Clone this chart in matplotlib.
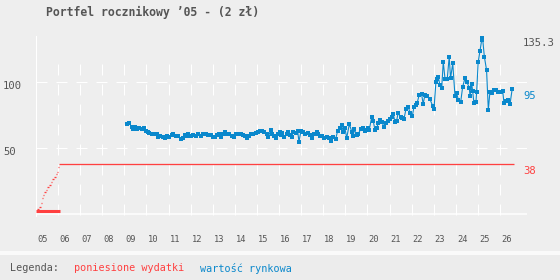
import matplotlib
matplotlib.use('Agg')
import matplotlib.pyplot as plt
from matplotlib.patches import Rectangle

# dane
years = list(range(2005, 2027))
year_labels = ['%02d' % (y % 100) for y in years]
y_ticks = [50, 100]

# poniesione wydatki (schodki w pierwszym roku, potem stale)
spent_dates = [2005.06, 2005.15, 2005.21, 2005.29, 2005.33, 2005.38, 2005.45, 2005.51, 2005.60,
               2005.67, 2005.74, 2005.81, 2005.89, 2005.95, 2005.98, 2006.01, 2006.03, 2026.65]
spent = [4.2, 5.8, 8.3, 12.1, 14.6, 16.6, 18.2, 20.5, 22.2,
         24.2, 26.5, 28.3, 30.5, 32.3, 34.1, 36.1, 38.0]
first_year = [2005.0, 2006.09]
first_year_val = 2.2

# wartosc rynkowa
value_dates = [
    2009.13, 2009.22, 2009.33, 2009.40, 2009.48, 2009.58, 2009.67, 2009.78, 2009.89, 2009.98,
    2010.08, 2010.13, 2010.24, 2010.34, 2010.46, 2010.53, 2010.61, 2010.73, 2010.84, 2010.94,
    2011.03, 2011.14, 2011.21, 2011.33, 2011.44, 2011.55, 2011.64, 2011.74, 2011.82, 2011.89,
    2012.01, 2012.12, 2012.24, 2012.34, 2012.45, 2012.57, 2012.69, 2012.80, 2012.90,
    2013.02, 2013.10, 2013.20, 2013.29, 2013.38, 2013.48, 2013.57, 2013.66, 2013.75, 2013.86, 2013.96,
    2014.05, 2014.15, 2014.28, 2014.38, 2014.46, 2014.53, 2014.64, 2014.73, 2014.83, 2014.94,
    2015.03, 2015.14, 2015.24, 2015.33, 2015.44, 2015.51, 2015.63, 2015.69, 2015.78, 2015.85, 2015.94,
    2016.04, 2016.09, 2016.15, 2016.24, 2016.34, 2016.42, 2016.49, 2016.57, 2016.64, 2016.75, 2016.84,
    2016.90, 2016.99,
    2017.10, 2017.17, 2017.29, 2017.40, 2017.50, 2017.59, 2017.70, 2017.77, 2017.85, 2017.95,
    2018.05, 2018.15, 2018.26, 2018.35, 2018.45, 2018.56, 2018.65, 2018.76, 2018.83, 2018.91, 2018.98,
    2019.06, 2019.18, 2019.29, 2019.36, 2019.40, 2019.51, 2019.58, 2019.69, 2019.78, 2019.89, 2019.96,
    2020.04, 2020.08, 2020.19, 2020.26, 2020.34, 2020.42, 2020.49, 2020.57, 2020.64, 2020.75, 2020.84,
    2020.94,
    2021.02, 2021.10, 2021.17, 2021.24, 2021.32, 2021.39, 2021.50, 2021.55, 2021.65, 2021.74, 2021.85,
    2021.92,
    2022.03, 2022.10, 2022.19, 2022.25, 2022.34, 2022.45, 2022.52, 2022.60, 2022.71, 2022.83, 2022.95,
    2023.01, 2023.10, 2023.16, 2023.20, 2023.28, 2023.36, 2023.43, 2023.51, 2023.61, 2023.70, 2023.76,
    2023.86, 2023.96,
    2024.04, 2024.11, 2024.22, 2024.31, 2024.41, 2024.49, 2024.61, 2024.64, 2024.72, 2024.76, 2024.82,
    2024.91, 2024.94,
    2025.01, 2025.09, 2025.17, 2025.20, 2025.29, 2025.39, 2025.47, 2025.54, 2025.62, 2025.72, 2025.81,
    2025.92,
    2026.03, 2026.12, 2026.18, 2026.27, 2026.37, 2026.45, 2026.55]
value = [
    68.4, 68.9, 66.4, 64.6, 66.4, 64.6, 65.2, 64.6, 65.2, 63.1,
    62.6, 61.4, 60.6, 60.6, 61.1, 58.3, 59.3, 58.8, 58.0, 59.5,
    58.3, 60.1, 60.6, 59.5, 59.3, 57.0, 58.0, 60.1, 59.5, 60.6,
    59.5, 60.1, 59.3, 60.6, 59.5, 61.1, 60.6, 60.1, 60.1,
    58.6, 58.6, 60.1, 60.6, 58.6, 60.6, 62.1, 61.1, 60.6, 59.5, 58.6,
    61.1, 60.6, 60.6, 60.1, 59.5, 57.6, 59.5, 61.1, 60.6, 61.4,
    62.6, 63.1, 63.1, 62.1, 60.6, 58.8, 63.9, 60.6, 59.5, 58.0, 61.1,
    62.6, 60.1, 61.4, 58.6, 60.6, 62.6, 60.1, 58.6, 62.6, 61.4, 63.1,
    55.0, 63.1,
    62.1, 60.6, 61.4, 60.1, 57.6, 60.6, 62.1, 60.6, 59.5, 59.5,
    58.0, 58.8, 57.6, 55.5, 58.8, 57.0, 63.1, 65.2, 67.3, 62.6, 65.2,
    57.8, 68.4, 62.6, 59.3, 64.4, 60.1, 60.8, 64.4, 65.2, 63.3, 63.9,
    65.2, 63.9, 73.5, 70.9, 63.9, 65.2, 69.4, 71.4, 70.2, 66.4, 68.9,
    70.9,
    72.4, 73.5, 76.0, 70.2, 70.9, 77.0, 73.5, 72.7, 72.0, 79.5, 81.5,
    77.0,
    74.5, 81.1, 82.8, 84.5, 90.4, 91.1, 83.6, 90.4, 89.6, 87.1, 82.3,
    79.8, 100.5, 102.5, 104.2, 98.0, 95.5, 115.6, 102.5, 102.5, 119.4, 103.0,
    114.4, 89.8,
    91.7, 86.6, 85.3, 96.7, 103.0, 100.5, 95.9, 89.8, 98.5, 93.4, 84.1,
    85.3, 92.4,
    115.2, 123.7, 132.0, 135.3, 119.4, 109.3, 79.0, 92.4, 91.7, 94.2, 94.2,
    92.4,
    92.9, 93.4, 84.1, 85.7, 86.6, 83.3, 95.0]

BG = '#eeeeee'
GREY = '#555555'
RED = '#ff4040'
BLUE = '#0a88cc'
FONT = 'DejaVu Sans Mono'
plt.rcParams['font.family'] = FONT

W, H = 560, 280
fig = plt.figure(figsize=(W / 100, H / 100), dpi=100, facecolor=BG)

# pasek legendy na dole
fig.patches.append(Rectangle((0, 0), 1, 25 / H, transform=fig.transFigure,
                             facecolor='#ececec', edgecolor='none', zorder=0))
fig.patches.append(Rectangle((0, 25 / H), 1, 4 / H, transform=fig.transFigure,
                             facecolor='#fafafa', edgecolor='none', zorder=0))

# obszar wykresu: x 36..527 px, y 36..216.5 px
ax = fig.add_axes([36 / W, (H - 216.5) / H, (527 - 36) / W, (216.5 - 36) / H])
ax.set_facecolor('none')
for s in ax.spines.values():
    s.set_visible(False)
ax.set_xlim(2005, 2027.22)
ax.set_ylim(-1.67, 135.1)
ax.set_xticks([])
ax.set_yticks([])

px = 0.72  # 1 piksel w punktach
# siatka
for yv in y_ticks:
    ax.plot([2005, 2027.22], [yv, yv], color='white', lw=px, dashes=(11, 9), zorder=1)
for yr in years[1:]:
    ax.plot([yr, yr], [-0.9, 114], color='white', lw=px, dashes=(11, 9), zorder=1)
ax.plot([2005, 2005], [-1.67, 135.1], color='white', lw=px, zorder=1)
ax.plot([2005, 2027.22], [0, 0], color='white', lw=px * 1.5, zorder=1)

# poniesione wydatki
ax.plot(first_year, [first_year_val, first_year_val], color=RED, lw=2.2, solid_capstyle='butt', zorder=3)
ax.hlines(spent, spent_dates[:-1], spent_dates[1:], color=RED, lw=px * 1.3, zorder=3)

# wartosc rynkowa
ax.plot(value_dates, value, color=BLUE, lw=px * 1.1, marker='s', ms=2.9, mew=0, zorder=4)

# podpisy osi
for yr, lab in zip(years, year_labels):
    ax.annotate(lab, xy=(yr, 0), xytext=(1, -25), textcoords='offset pixels',
                ha='left', va='center', fontsize=6.3, color=GREY, annotation_clip=False)
for yv in y_ticks:
    ax.annotate(str(yv), xy=(2005, yv), xytext=(-33, -3.5), textcoords='offset pixels',
                ha='left', va='center', fontsize=7.6, color=GREY, annotation_clip=False)

# wartosci po prawej
right_labels = [(max(value), GREY), (value[-1], BLUE), (spent[-1], RED)]
for v, c in right_labels:
    ax.annotate('%g' % v, xy=(1, v), xycoords=ax.get_yaxis_transform(),
                xytext=(-4, -7), textcoords='offset pixels',
                ha='left', va='center', fontsize=7.6, color=c, annotation_clip=False)

fig.text(45.5 / W, 1 - 12.5 / H, 'Portfel rocznikowy ’05 - (2 zł)', ha='left', va='center',
         fontsize=8.3, fontweight='bold', color=GREY)

fig.text(10 / W, 1 - 268 / H, 'Legenda:', ha='left', va='center', fontsize=7.3, color=GREY)
fig.text(74.5 / W, 1 - 268 / H, 'poniesione wydatki', ha='left', va='center', fontsize=7.3, color=RED)
fig.text(199.5 / W, 1 - 268 / H, 'wartość rynkowa', ha='left', va='center', fontsize=7.3, color=BLUE)

fig.savefig('out.png', dpi=100, facecolor=BG)
